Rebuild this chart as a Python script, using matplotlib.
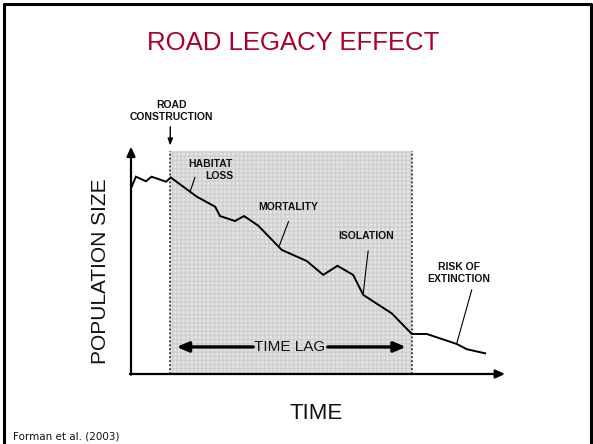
import matplotlib
matplotlib.use('Agg')
import matplotlib.pyplot as plt
from matplotlib.patches import Rectangle

# population trajectory (time / population, arbitrary units 0-100)
time = [0.2, 1.3, 4.0, 5.5, 9.4, 10.6, 17.6, 22.5, 23.8, 27.8, 30.2, 34.0,
        40.3, 47.0, 51.4, 55.2, 59.4, 62.1, 69.7, 75.1, 79.1, 87.1, 89.8, 94.7]
population = [82.4, 86.8, 84.8, 86.8, 84.6, 86.5, 78.0, 73.6, 69.5, 67.3, 69.5, 65.3,
              54.6, 49.7, 43.6, 47.6, 43.6, 34.8, 26.7, 17.6, 17.6, 13.2, 10.9, 9.1]

road_construction = 10.5
lag_end = 75.1

TITLE = 'ROAD LEGACY EFFECT'
XLABEL = 'TIME'
YLABEL = 'POPULATION SIZE'
SOURCE = 'Forman et al. (2003)'

TITLE_COLOR = '#a8002a'
W, H = 593, 444

plt.rcParams['font.family'] = ['Liberation Sans', 'DejaVu Sans']

fig = plt.figure(figsize=(W / 100, H / 100), dpi=100)
fig.patch.set_facecolor('white')

# slide border (left, top, right)
fig.add_artist(plt.Line2D([4 / W, 4 / W, 591 / W, 591 / W], [0, 1 - 4 / H, 1 - 4 / H, 0],
                          transform=fig.transFigure, color='black', lw=2.2))

ax = fig.add_axes([131 / W, 1 - 374 / H, (505 - 131) / W, (374 - 146.7) / H])
ax.set_xlim(0, 100)
ax.set_ylim(0, 100)
ax.axis('off')

# time-lag band
band = Rectangle((road_construction, 0), lag_end - road_construction, 97.9,
                 facecolor='#e4e4e4', edgecolor='#cfcfcf', hatch='++++', lw=0, zorder=0)
ax.add_patch(band)
for xv in (road_construction, lag_end):
    ax.plot([xv, xv], [0, 97.9], color='#333333', lw=1.3, ls=(0, (1, 1.2)), zorder=1)

# axes with arrows
arrow_kw = dict(arrowstyle='-|>,head_length=0.55,head_width=0.25', color='black', lw=1.6,
                shrinkA=0, shrinkB=0)
ax.annotate('', xy=(100, 0), xytext=(-0.3, 0), arrowprops=arrow_kw, annotation_clip=False)
ax.annotate('', xy=(0, 100), xytext=(0, -0.3), arrowprops=arrow_kw, annotation_clip=False)

# trajectory
ax.plot(time, population, color='black', lw=1.4, zorder=3, solid_joinstyle='miter')

# leaders
leaders = [((17.1, 86.5), (15.8, 80.2)),
           ((42.1, 67.0), (39.7, 56.6)),
           ((63.4, 54.1), (62.1, 35.5)),
           ((91.1, 37.0), (87.1, 13.5))]
for (x0, y0), (x1, y1) in leaders:
    ax.plot([x0, x1], [y0, y1], color='black', lw=0.8, zorder=3)

lab = dict(fontsize=7.5, fontweight='bold', color='#111111', zorder=4)
ax.text(road_construction + 0.3, 115.5, 'ROAD\nCONSTRUCTION', ha='center', va='center',
        linespacing=1.25, clip_on=False, **lab)
ax.annotate('', xy=(road_construction, 100.5), xytext=(road_construction, 108.8),
            arrowprops=dict(arrowstyle='-|>,head_length=0.4,head_width=0.15',
                            color='black', lw=1.0, shrinkA=0, shrinkB=0),
            annotation_clip=False)
ax.text(27.3, 89.7, 'HABITAT\nLOSS', ha='right', va='center', multialignment='right',
        linespacing=1.25, **lab)
ax.text(42.0, 73.6, 'MORTALITY', ha='center', va='center', **lab)
ax.text(62.8, 60.7, 'ISOLATION', ha='center', va='center', **lab)
ax.text(87.7, 44.4, 'RISK OF\nEXTINCTION', ha='center', va='center', linespacing=1.25, **lab)

# time lag double arrow
lag_kw = dict(arrowstyle='-|>,head_length=0.7,head_width=0.3', color='black', lw=2.4,
              shrinkA=0, shrinkB=0)
ax.annotate('', xy=(12.2, 11.9), xytext=(32.7, 11.9), arrowprops=lag_kw)
ax.annotate('', xy=(73.5, 11.9), xytext=(52.6, 11.9), arrowprops=lag_kw)
ax.text(42.5, 11.9, 'TIME LAG', ha='center', va='center', fontsize=11, color='#111111', zorder=4)

# labels and title
fig.text(293 / W, 1 - 43 / H, TITLE, ha='center', va='center', fontsize=18.5, color=TITLE_COLOR)
fig.text(100.5 / W, 1 - 271.5 / H, YLABEL, ha='center', va='center', rotation=90,
         fontsize=15, color='#111111')
fig.text(316 / W, 1 - 413 / H, XLABEL, ha='center', va='center', fontsize=16, color='#111111')
fig.text(13 / W, 1 - 436 / H, SOURCE, ha='left', va='center', fontsize=7.5, color='#111111',
         family=['DejaVu Sans'])

fig.savefig('out.png', dpi=100, facecolor='white')
